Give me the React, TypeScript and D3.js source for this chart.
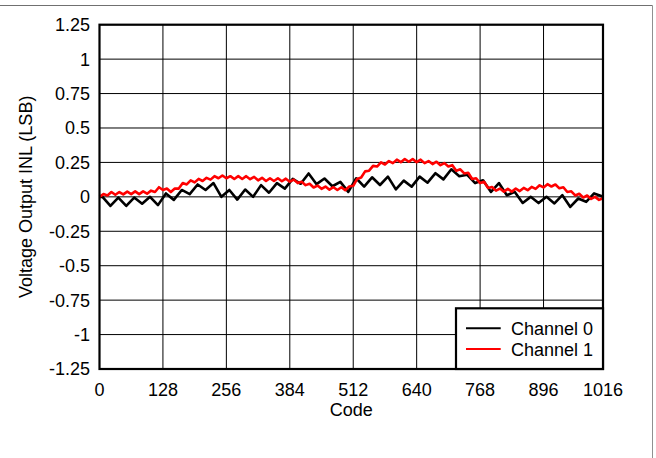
import React from "react";
import * as d3 from "d3";

const xTicks = [0, 128, 256, 384, 512, 640, 768, 896, 1016];
const yTicks = [1.25, 1, 0.75, 0.5, 0.25, 0, -0.25, -0.5, -0.75, -1, -1.25];
const yTickLabels = ["1.25", "1", "0.75", "0.5", "0.25", "0", "-0.25", "-0.5", "-0.75", "-1", "-1.25"];

const ch0Codes = [0, 6, 22, 38, 54, 70, 86, 102, 118, 134, 150, 166, 182, 198, 214, 230, 246, 262, 278, 294, 310, 326, 342, 358, 374, 390, 406, 422, 438, 454, 470, 486, 502, 518, 534, 550, 566, 582, 598, 614, 630, 646, 662, 678, 694, 710, 726, 742, 758, 774, 790, 806, 822, 838, 854, 870, 886, 902, 918, 934, 950, 966, 982, 998, 1014, 1016];
const ch0Values = [0.0, 0.0, -0.066, -0.005, -0.066, -0.005, -0.05, 0.0, -0.06, 0.025, -0.022, 0.05, 0.02, 0.09, 0.05, 0.1, 0.0, 0.05, -0.02, 0.053, 0.0, 0.085, 0.03, 0.1, 0.06, 0.13, 0.095, 0.17, 0.092, 0.133, 0.077, 0.109, 0.036, 0.135, 0.074, 0.142, 0.086, 0.147, 0.054, 0.118, 0.074, 0.147, 0.103, 0.172, 0.127, 0.2, 0.15, 0.16, 0.1, 0.12, 0.036, 0.1, 0.012, 0.036, -0.044, 0.0, -0.045, 0.0, -0.048, 0.012, -0.073, -0.012, -0.036, 0.025, 0.005, -0.01];

const ch1Codes = [0, 8, 16, 24, 32, 40, 48, 56, 64, 72, 80, 88, 96, 104, 112, 120, 128, 136, 144, 152, 160, 168, 176, 184, 192, 200, 208, 216, 224, 232, 240, 248, 256, 264, 272, 280, 288, 296, 304, 312, 320, 328, 336, 344, 352, 360, 368, 376, 384, 392, 400, 408, 416, 424, 432, 440, 448, 456, 464, 472, 480, 488, 496, 504, 512, 520, 528, 536, 544, 552, 560, 568, 576, 584, 592, 600, 608, 616, 624, 632, 640, 648, 656, 664, 672, 680, 688, 696, 704, 712, 720, 728, 736, 744, 752, 760, 768, 776, 784, 792, 800, 808, 816, 824, 832, 840, 848, 856, 864, 872, 880, 888, 896, 904, 912, 920, 928, 936, 944, 952, 960, 968, 976, 984, 992, 1000, 1008, 1016];
const ch1Values = [0.0, 0.02, 0.01, 0.035, 0.015, 0.035, 0.018, 0.038, 0.02, 0.04, 0.02, 0.04, 0.023, 0.045, 0.035, 0.07, 0.05, 0.06, 0.035, 0.06, 0.06, 0.1, 0.09, 0.12, 0.105, 0.13, 0.115, 0.138, 0.125, 0.15, 0.135, 0.155, 0.135, 0.15, 0.13, 0.15, 0.13, 0.15, 0.128, 0.145, 0.12, 0.138, 0.115, 0.135, 0.115, 0.135, 0.113, 0.132, 0.11, 0.125, 0.1, 0.11, 0.085, 0.095, 0.068, 0.082, 0.058, 0.075, 0.052, 0.07, 0.05, 0.07, 0.048, 0.075, 0.08, 0.13, 0.14, 0.185, 0.19, 0.225, 0.22, 0.25, 0.235, 0.26, 0.245, 0.27, 0.252, 0.275, 0.255, 0.275, 0.252, 0.27, 0.245, 0.26, 0.238, 0.255, 0.23, 0.245, 0.22, 0.23, 0.19, 0.2, 0.17, 0.175, 0.13, 0.135, 0.1, 0.11, 0.065, 0.072, 0.045, 0.06, 0.038, 0.058, 0.038, 0.06, 0.042, 0.065, 0.048, 0.072, 0.058, 0.084, 0.068, 0.092, 0.075, 0.09, 0.062, 0.07, 0.035, 0.04, 0.01, 0.022, -0.005, 0.01, -0.015, 0.0, -0.022, -0.01];

const seriesNames = ["Channel 0", "Channel 1"];
const seriesColors = ["#000000", "#ff0000"];

const W = 656;
const H = 458;
const FONT = "Arial, 'Liberation Sans', sans-serif";

export default function App() {
  const left = 99.5, right = 603, top = 24.7, bottom = 369;
  const x = d3.scaleLinear().domain([0, 1016]).range([left, right]);
  const y = d3.scaleLinear().domain([-1.25, 1.25]).range([bottom, top]);

  const line = d3
    .line<[number, number]>()
    .x((d) => x(d[0]))
    .y((d) => y(d[1]));

  const ch0 = ch0Codes.map((c, i) => [c, ch0Values[i]] as [number, number]);
  const ch1 = ch1Codes.map((c, i) => [c, ch1Values[i]] as [number, number]);

  const legX = 456, legY = 308.3, legW = right - 456, legH = bottom - 308.3;

  return (
    <svg
      width={W}
      height={H}
      style={{ position: "absolute", left: 0, top: 0, background: "#fff" }}
      fontFamily={FONT}
    >
      <rect x={0} y={0} width={W} height={H} fill="#fff" />
      {/* outer frame */}
      <line x1={0} x2={652.5} y1={5.5} y2={5.5} stroke="#707070" strokeWidth={1} />
      <line x1={652.5} x2={652.5} y1={5.5} y2={H} stroke="#909090" strokeWidth={1} />

      {/* gridlines */}
      {xTicks.map((t) => (
        <line key={"gx" + t} x1={x(t)} x2={x(t)} y1={top} y2={bottom} stroke="#000" strokeWidth={1} />
      ))}
      {yTicks.map((t) => (
        <line key={"gy" + t} x1={left} x2={right} y1={y(t)} y2={y(t)} stroke="#000" strokeWidth={1} />
      ))}

      {/* series */}
      <path d={line(ch0) || ""} fill="none" stroke={seriesColors[0]} strokeWidth={2.6} strokeLinejoin="round" />
      <path d={line(ch1) || ""} fill="none" stroke={seriesColors[1]} strokeWidth={2.6} strokeLinejoin="round" />

      {/* plot frame */}
      <rect x={left} y={top} width={right - left} height={bottom - top} fill="none" stroke="#000" strokeWidth={2.2} />

      {/* y tick labels */}
      {yTicks.map((t, i) => (
        <text key={"yl" + t} x={90} y={y(t) + 6.4} textAnchor="end" fontSize={18} fill="#000">
          {yTickLabels[i]}
        </text>
      ))}
      {/* x tick labels */}
      {xTicks.map((t) => (
        <text key={"xl" + t} x={x(t)} y={396} textAnchor="middle" fontSize={18} fill="#000">
          {String(t)}
        </text>
      ))}
      <text x={(left + right) / 2} y={416} textAnchor="middle" fontSize={18} fill="#000">
        Code
      </text>
      <text
        transform={`translate(32, ${(top + bottom) / 2}) rotate(-90)`}
        textAnchor="middle"
        fontSize={18}
        fill="#000"
      >
        Voltage Output INL (LSB)
      </text>

      {/* legend */}
      <rect x={legX} y={legY} width={legW} height={legH} fill="#fff" stroke="#000" strokeWidth={2.2} />
      {seriesNames.map((n, i) => (
        <g key={n}>
          <line x1={466} x2={500.7} y1={328.3 + i * 20.7} y2={328.3 + i * 20.7} stroke={seriesColors[i]} strokeWidth={2} />
          <text x={511} y={335 + i * 20.7} fontSize={18} fill="#000">
            {n}
          </text>
        </g>
      ))}
    </svg>
  );
}
